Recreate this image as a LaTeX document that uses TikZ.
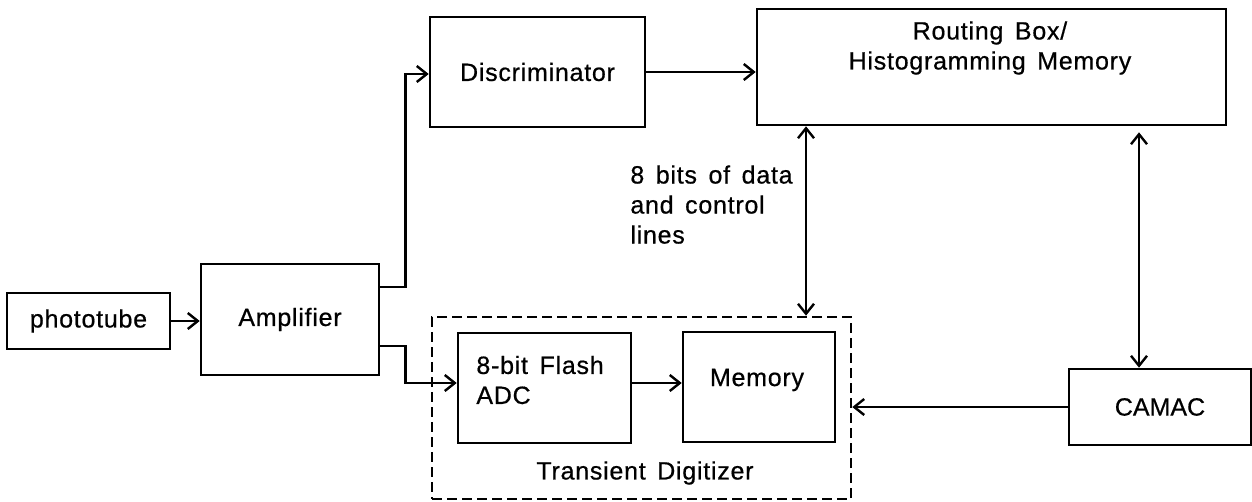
\documentclass[tikz,border=0pt]{standalone}
\usepackage{fontspec}
\setmainfont{Liberation Sans}[LetterSpace=3,WordSpace=1.5,FakeBold=0.6]
\usetikzlibrary{arrows.meta}
\begin{document}
\begin{tikzpicture}[x=0.5pt,y=-0.5pt,
  font=\fontsize{12.5}{15}\selectfont,
  box/.style={draw,line width=1.3pt,inner sep=0pt},
  arr/.style={line width=1.2pt,-{Straight Barb[length=5pt,width=8pt,line width=1.2pt]}},
  darr/.style={line width=1.2pt,{Straight Barb[length=5pt,width=8pt,line width=1.2pt]}-{Straight Barb[length=5pt,width=8pt,line width=1.2pt]}},
  txt/.style={inner sep=0pt,align=center}]
\useasboundingbox (0,0) rectangle (1252,502);
% boxes
\node[box,minimum width=81.5pt,minimum height=28pt] (photo) at (88.5,321) {phototube};
\node[box,minimum width=89pt,minimum height=55.5pt] (amp) at (290,319.5) {Amplifier};
\node[box,minimum width=107.5pt,minimum height=55pt] (disc) at (537.5,72) {Discriminator};
\node[box,minimum width=234.5pt,minimum height=58pt] (rout) at (991.5,67) {};
\node[txt] (routtxt) at (990,48) {Routing Box/\\Histogramming Memory};
\node[box,dashed,dash pattern=on 5pt off 2.5pt,minimum width=209.5pt,minimum height=91pt] (tdig) at (641.5,408) {};
\node[txt] (tdigtxt) at (645,473) {Transient Digitizer};
\node[box,minimum width=86.5pt,minimum height=55pt] (adc) at (544.5,388) {};
\node[txt,align=left,anchor=west] (adctxt) at (476,380) {8-bit Flash\\ADC};
\node[box,minimum width=76pt,minimum height=55pt] (mem) at (759,387) {};
\node[txt] (memtxt) at (757,380) {Memory};
\node[box,minimum width=91pt,minimum height=38pt] (camac) at (1160,407) {\addfontfeature{LetterSpace=0}CAMAC};
\node[txt,align=left,anchor=north west] (lbl) at (630,165) {8 bits of data\\and control\\lines};
% connectors
\coordinate (bx) at (806,0);
\coordinate (cx) at (1139,0);
\draw[arr] (photo.east) -- (photo.east -| amp.west);
\draw[arr] ([yshift=16.25pt]amp.east) -- ++(25,0) |- ([yshift=-1pt]disc.west);
\draw[arr] ([yshift=-13.25pt]amp.east) -- ++(25,0) |- ([yshift=2.5pt]adc.west);
\draw[arr] (disc.east) -- (disc.east -| rout.west);
\draw[arr] ([yshift=2.5pt]adc.east) -- ([yshift=2.5pt]adc.east -| mem.west);
\draw[darr] (bx |- rout.south) -- (bx |- tdig.north);
\draw[darr] ([yshift=-3pt]cx |- rout.south) -- (cx |- camac.north);
\draw[arr] (camac.west) -- (camac.west -| tdig.east);
\end{tikzpicture}
\end{document}
